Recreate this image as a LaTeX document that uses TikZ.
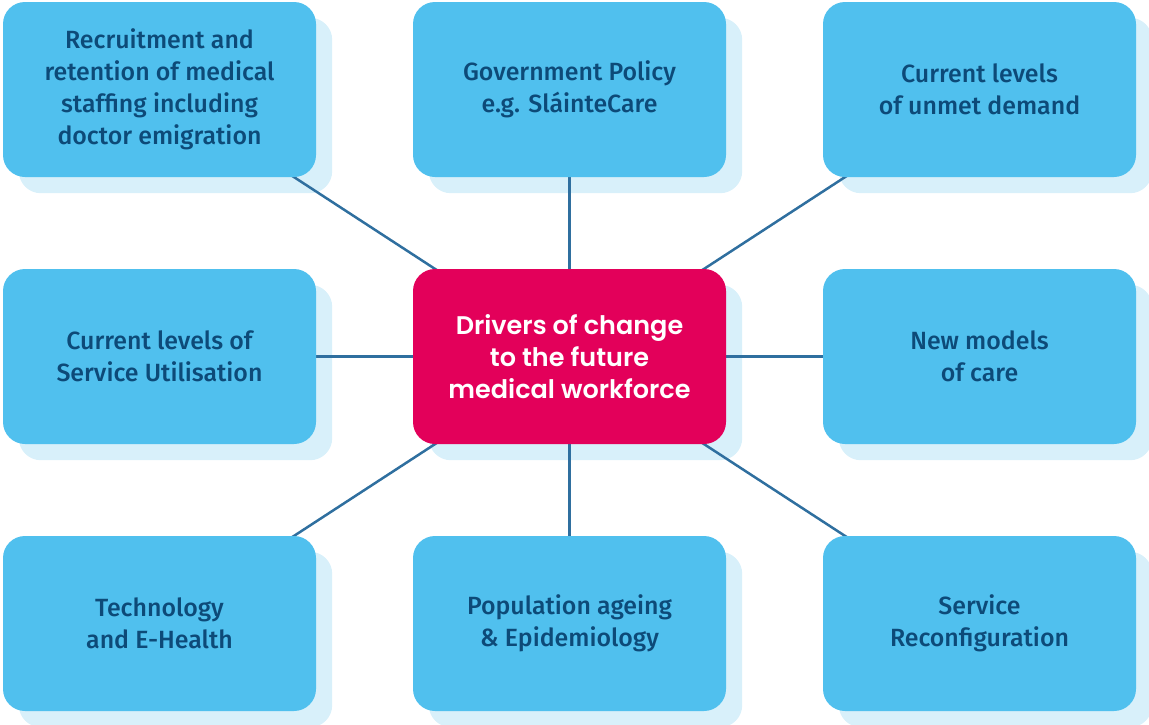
\documentclass[tikz,border=0pt]{standalone}
\usepackage{fontspec}
\IfFontExistsTF{Fira Sans Medium}{\setmainfont{Fira Sans Medium}}{\setmainfont{Fira Sans}[FakeBold=0.6]}
\IfFontExistsTF{Poppins SemiBold}{\newfontfamily\centerfont{Poppins SemiBold}}{\newfontfamily\centerfont{Poppins}[FakeBold=0]}
\definecolor{boxblue}{HTML}{50C0EE}
\definecolor{shadowblue}{HTML}{D8F0FA}
\definecolor{textblue}{HTML}{0D4A78}
\definecolor{hubred}{HTML}{E3005A}
\definecolor{linkblue}{HTML}{2F6F9F}
\pgfdeclarelayer{bg}
\pgfdeclarelayer{links}
\pgfsetlayers{bg,links,main}
\tikzset{
  card/.style={rounded corners=22pt, minimum width=313pt, minimum height=175pt,
    inner sep=0pt, align=center, fill=boxblue, text=textblue,
    font=\fontsize{24.9}{32}\selectfont},
  hub/.style={card, fill=hubred, text=white, font=\centerfont\fontsize{25.5}{32}\selectfont},
  cardshadow/.style={fill=shadowblue, rounded corners=22pt},
  link/.style={draw=linkblue, line width=2.5pt}
}
\begin{document}
\begin{tikzpicture}[x=1pt,y=-1pt]
\useasboundingbox (0,0) rectangle (1149,724);
\node[card] (rec) at (159.5,89.5) {Recruitment and\\retention of medical\\staffing including\\doctor emigration};
\node[card] (gov) at (569.5,89.5) {Government Policy\\e.g. SláinteCare};
\node[card] (unmet) at (979.5,89.5) {Current levels\\of unmet demand};
\node[card] (util) at (159.5,356.5) {Current levels of\\Service Utilisation};
\node[hub] (hub) at (569.5,356.5) {Drivers of change\\to the future\\medical workforce};
\node[card] (models) at (979.5,356.5) {New models\\of care};
\node[card] (tech) at (159.5,623.5) {Technology\\and E-Health};
\node[card] (pop) at (569.5,623.5) {Population ageing\\\& Epidemiology};
\node[card] (recon) at (979.5,623.5) {Service\\Reconfiguration};
\begin{pgfonlayer}{bg}
\foreach \n in {rec,gov,unmet,util,hub,models,tech,pop,recon}{
  \fill[cardshadow] ([shift={(16,16)}]\n.north west) rectangle ([shift={(16,16)}]\n.south east);
}
\end{pgfonlayer}
\begin{pgfonlayer}{links}
\foreach \n in {rec,gov,unmet,util,models,tech,pop,recon}{
  \draw[link] (hub.center) -- (\n.center);
}
\end{pgfonlayer}
\end{tikzpicture}
\end{document}
